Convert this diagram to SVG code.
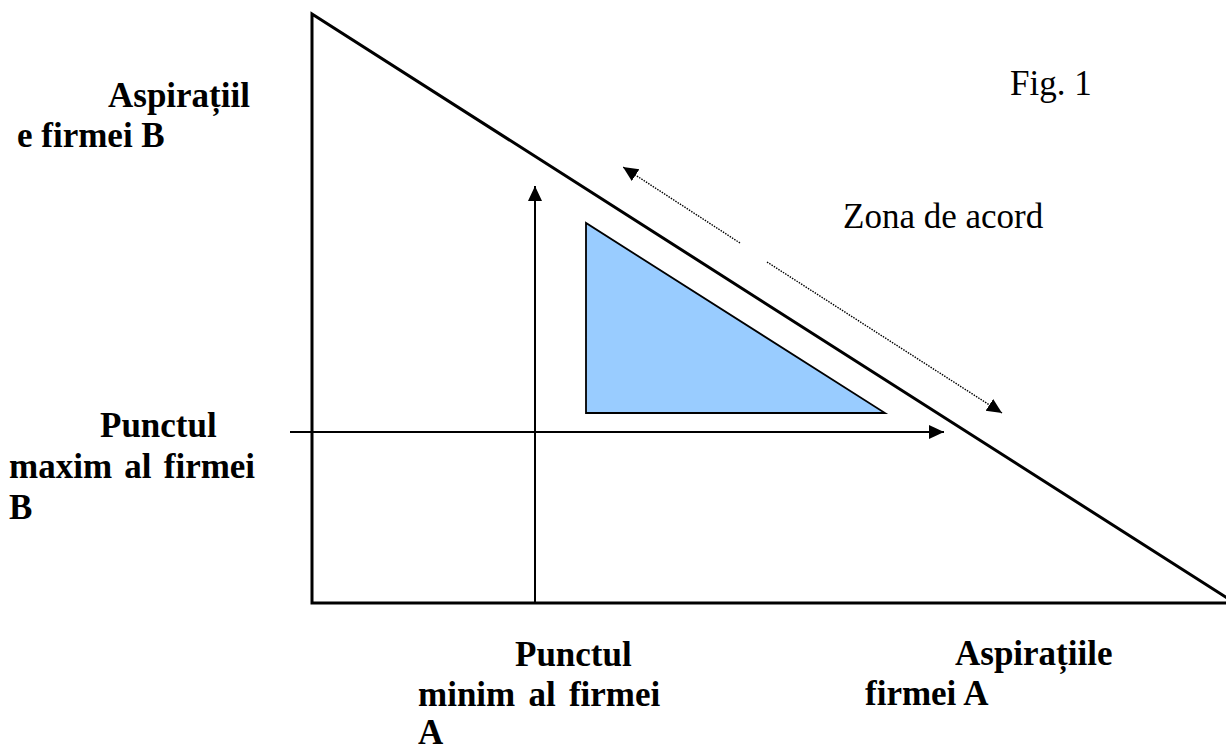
<svg xmlns="http://www.w3.org/2000/svg" width="1226" height="748" viewBox="0 0 1226 748">
<style>
.b{font-family:"Liberation Serif","Times New Roman",serif;font-weight:bold;font-size:35px;fill:#000}
.r{font-family:"Liberation Serif","Times New Roman",serif;font-size:35px;fill:#000}
.ax{stroke:#000;stroke-width:2;fill:none}
.dot{stroke:#000;stroke-width:1.4;stroke-dasharray:1.5 1.2;fill:none}
</style>
<defs>
<marker id="ah" markerUnits="userSpaceOnUse" markerWidth="16" markerHeight="16" viewBox="0 0 16 16" refX="15" refY="8" orient="auto">
<path d="M0,1 L15,8 L0,15 Z" fill="#000"/>
</marker>
</defs>
<rect width="1226" height="748" fill="#fff"/>
<g id="outer-triangle">
<polygon points="312,14 312,603 1235,603" fill="none" stroke="#000" stroke-width="3"/>
</g>
<g id="agreement-triangle">
<polygon points="586,223 586,413 885,413" fill="#99ccff" stroke="#000" stroke-width="1.8"/>
</g>
<g id="connectors">
<line class="ax" x1="535" y1="603" x2="535" y2="186" marker-end="url(#ah)"/>
<line class="ax" x1="290" y1="432" x2="944" y2="432" marker-end="url(#ah)"/>
<line class="dot" x1="740" y1="243" x2="623" y2="167" marker-end="url(#ah)"/>
<line class="dot" x1="767" y1="262" x2="1002" y2="413" marker-end="url(#ah)"/>
</g>
<g id="label-fig">
<text class="r" x="1010" y="95">Fig. 1</text>
</g>
<g id="label-zona">
<text class="r" x="843" y="228">Zona de acord</text>
</g>
<g id="label-aspiratii-b">
<text class="b" x="108" y="107">Aspirațiil</text>
<text class="b" x="17" y="147">e firmei B</text>
</g>
<g id="label-punct-max-b">
<text class="b" x="100" y="437">Punctul</text>
<text class="b" x="9" y="478" word-spacing="3.5">maxim al firmei</text>
<text class="b" x="9" y="519">B</text>
</g>
<g id="label-punct-min-a">
<text class="b" x="515" y="666">Punctul</text>
<text class="b" x="418" y="706" word-spacing="4.5">minim al firmei</text>
<text class="b" x="418" y="744">A</text>
</g>
<g id="label-aspiratii-a">
<text class="b" x="955" y="665">Aspirațiile</text>
<text class="b" x="865" y="705">firmei A</text>
</g>
</svg>
